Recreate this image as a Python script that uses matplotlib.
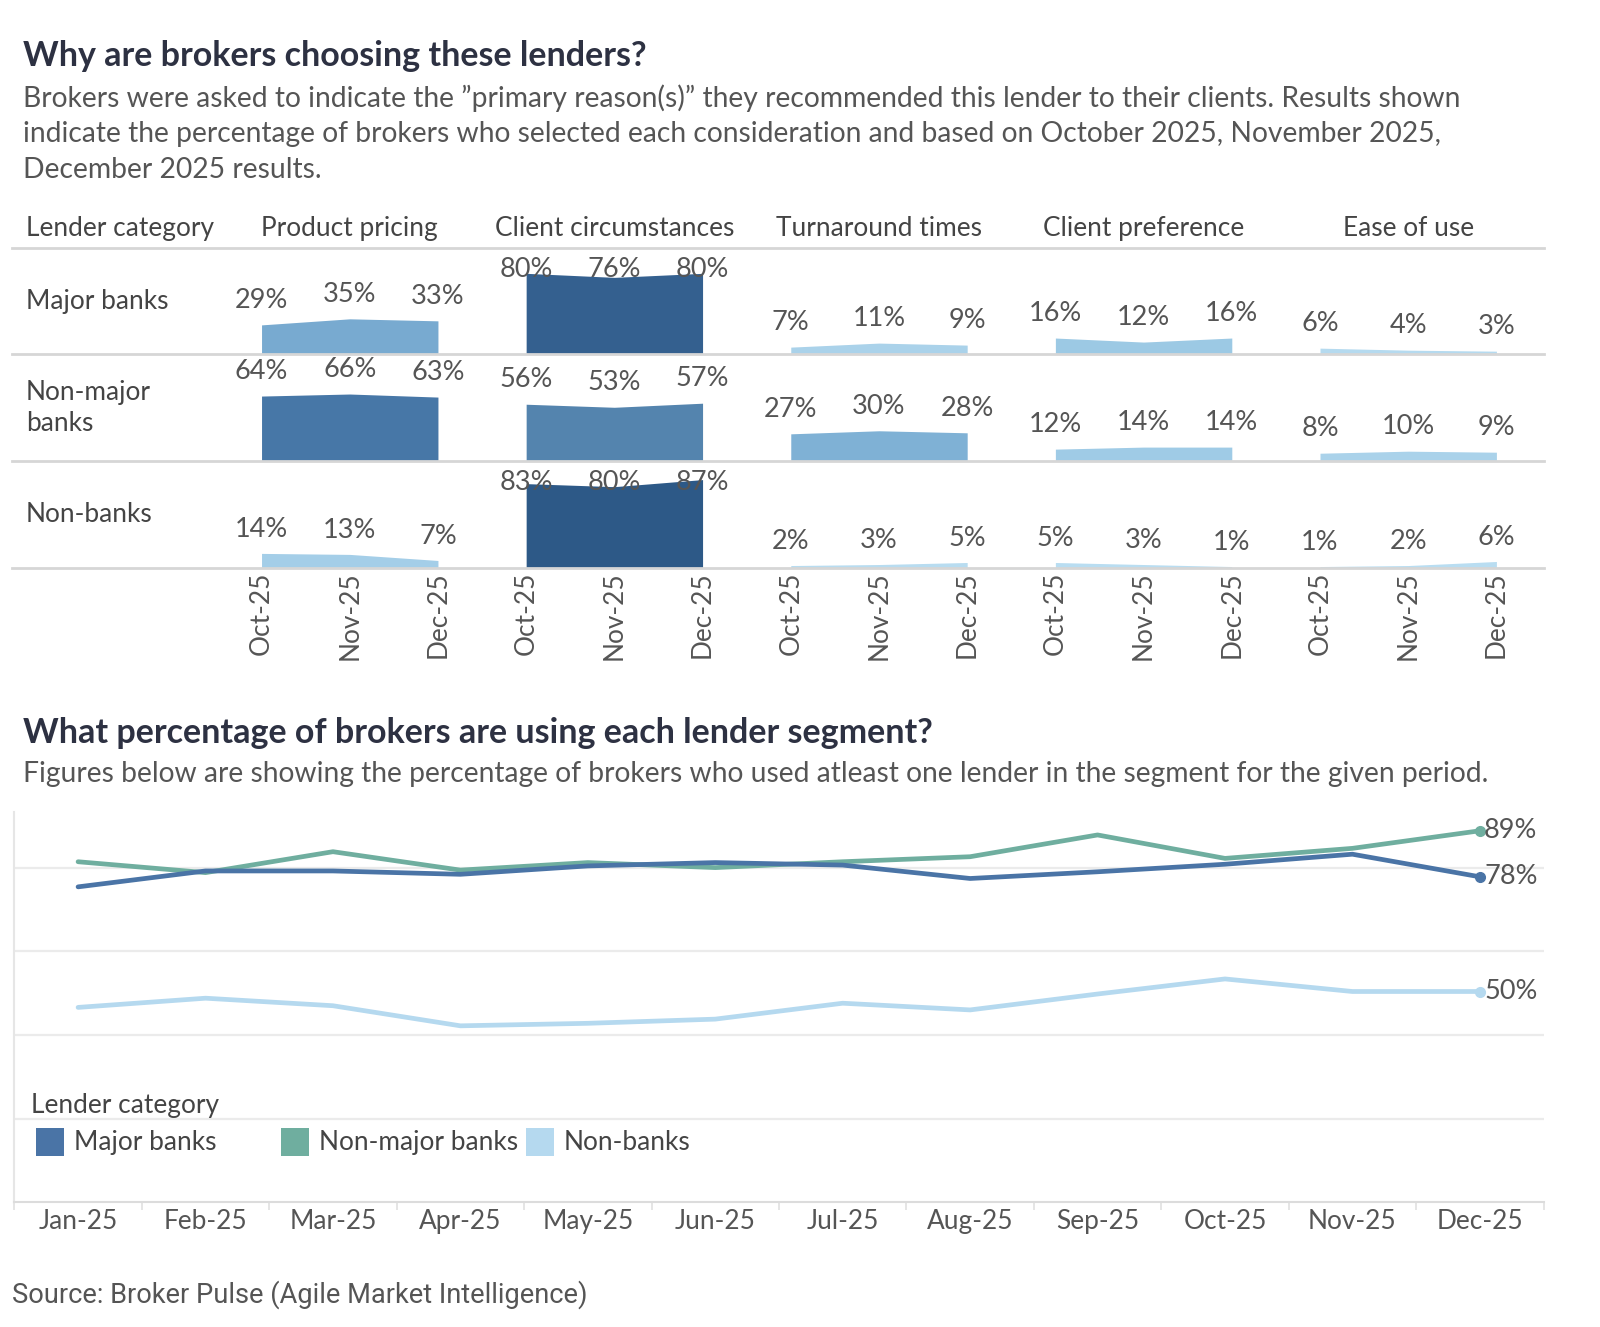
import numpy as np
import matplotlib
matplotlib.use("Agg")
import matplotlib.pyplot as plt
from matplotlib.colors import LinearSegmentedColormap
from matplotlib.patches import Rectangle
from matplotlib.transforms import blended_transform_factory

plt.rcParams['font.family'] = ['Lato', 'DejaVu Sans']

# ---------------- data ----------------
considerations = ["Product pricing", "Client circumstances", "Turnaround times",
                  "Client preference", "Ease of use"]
recent_months = ["Oct-25", "Nov-25", "Dec-25"]
lender_categories = ["Major banks", "Non-major banks", "Non-banks"]
row_labels = ["Major banks", "Non-major\nbanks", "Non-banks"]

major_reasons = [[29, 35, 33], [80, 76, 80], [7, 11, 9], [16, 12, 16], [6, 4, 3]]
nonmajor_reasons = [[64, 66, 63], [56, 53, 57], [27, 30, 28], [12, 14, 14], [8, 10, 9]]
nonbank_reasons = [[14, 13, 7], [83, 80, 87], [2, 3, 5], [5, 3, 1], [1, 2, 6]]

months = ["Jan-25", "Feb-25", "Mar-25", "Apr-25", "May-25", "Jun-25",
          "Jul-25", "Aug-25", "Sep-25", "Oct-25", "Nov-25", "Dec-25"]
major_usage = [75.4, 79.2, 79.2, 78.4, 80.4, 81.2, 80.6, 77.4, 79.0, 80.8, 83.2, 77.8]
nonmajor_usage = [81.4, 78.8, 83.8, 79.4, 81.2, 80.0, 81.4, 82.6, 87.8, 82.2, 84.6, 88.8]
nonbank_usage = [46.6, 48.8, 47.0, 42.2, 42.8, 43.8, 47.6, 46.0, 49.8, 53.4, 50.4, 50.4]

# ---------------- layout helpers ----------------
W, H = 1560.0, 1300.0


def fx(px):
    return px / W


def fy(py):
    return 1 - py / H


TXT = '#555555'
LBL = '#444444'
DARK = '#2d3142'
FS_TITLE = 24.5
FS_SUB = 20.3
FS_HEAD = 18.9
FS_VAL = 19.5
FS_TICK = 18.9

fig = plt.figure(figsize=(16, 13.27), dpi=100)

# Titles
fig.text(fx(22), fy(55), "Why are brokers choosing these lenders?", fontsize=FS_TITLE,
         fontweight='bold', color=DARK, va='center', ha='left')
sub_lines = ['Brokers were asked to indicate the \u201dprimary reason(s)\u201d they recommended this lender to their clients. Results shown',
             'indicate the percentage of brokers who selected each consideration and based on October 2025, November 2025,',
             'December 2025 results.']
for t, y in zip(sub_lines, [96, 131, 167]):
    fig.text(fx(22), fy(y), t, fontsize=FS_SUB, color=TXT, va='center', ha='left')

# ---------------- top table (area panels) ----------------
cmap = LinearSegmentedColormap.from_list(
    'blues', [(0.0, '#c0e2f4'), (0.176, '#9bc8e4'), (0.353, '#7caed3'),
              (0.647, '#5584ae'), (0.765, '#4676a7'), (1.0, '#2b5684')])

row_data = [major_reasons, nonmajor_reasons, nonbank_reasons]
row_bounds = [(243, 347), (347, 452), (452, 556)]
left_px, right_px = 12, 1505
x0_px, step_px = 255, 86
line_col = '#d6d6d6'

axes_rows = []
for r, (data, (top, bot)) in enumerate(zip(row_data, row_bounds)):
    ax = fig.add_axes([fx(left_px), fy(bot), fx(right_px) - fx(left_px), (bot - top) / H])
    ax.set_xlim((left_px - x0_px) / step_px, (right_px - x0_px) / step_px)
    ax.set_ylim(0, 105)
    for k, vals in enumerate(data):
        xs = np.arange(3) + 3 * k
        col = cmap(min(np.mean(vals) / 85.0, 1.0))
        ax.fill_between(xs, 0, vals, color=col, linewidth=0)
        for x, v in zip(xs, vals):
            ly = v + 24 if v + 24 <= 95 else 84
            ax.text(x, ly, f"{v}%", ha='center', va='center', fontsize=FS_VAL, color=TXT)
    for s in ax.spines.values():
        s.set_visible(False)
    ax.spines['bottom'].set_visible(True)
    ax.spines['bottom'].set_color(line_col)
    ax.spines['bottom'].set_linewidth(2)
    if r == 0:
        ax.spines['top'].set_visible(True)
        ax.spines['top'].set_color(line_col)
        ax.spines['top'].set_linewidth(2)
    ax.set_yticks([])
    if r == 2:
        ax.set_xticks(np.arange(15))
        ax.set_xticklabels(recent_months * len(considerations), rotation=90,
                           fontsize=FS_TICK, color=TXT)
        ax.tick_params(axis='x', length=0, pad=3)
    else:
        ax.set_xticks([])
    ax.patch.set_alpha(0)
    fig.text(fx(25), fy((top + bot) / 2), row_labels[r], fontsize=FS_HEAD, color=LBL,
             va='center', ha='left', linespacing=1.3)
    axes_rows.append(ax)

# header row
fig.text(fx(25), fy(224), "Lender category", fontsize=FS_HEAD, color=LBL, va='center', ha='left')
trans = blended_transform_factory(axes_rows[0].transData, fig.transFigure)
for k, name in enumerate(considerations):
    axes_rows[0].text(3 * k + 1, fy(224), name, transform=trans, fontsize=FS_HEAD,
                      color=LBL, va='center', ha='center')

# ---------------- bottom line chart ----------------
fig.text(fx(22), fy(718), "What percentage of brokers are using each lender segment?",
         fontsize=FS_TITLE, fontweight='bold', color=DARK, va='center', ha='left')
fig.text(fx(22), fy(758), "Figures below are showing the percentage of brokers who used atleast one lender in the segment for the given period.",
         fontsize=FS_SUB, color=TXT, va='center', ha='left')

lax = fig.add_axes([fx(14), fy(1178), fx(1505) - fx(14), (1178 - 795) / H])
lax.set_xlim(-0.5, 11.5)
lax.set_ylim(0, 93.4)
lax.set_yticks([20, 40, 60, 80])
lax.set_yticklabels([])
lax.tick_params(axis='y', length=0)
lax.yaxis.grid(True, color='#ebebeb', linewidth=1.6)
lax.set_axisbelow(True)
for s in ['top', 'right']:
    lax.spines[s].set_visible(False)
lax.spines['left'].set_color('#e6e6e6')
lax.spines['left'].set_linewidth(1.5)
lax.spines['bottom'].set_color('#dcdcdc')
lax.spines['bottom'].set_linewidth(1.5)
x = np.arange(len(months))
lax.set_xticks(x)
lax.set_xticklabels(months, fontsize=FS_TICK, color=TXT)
lax.tick_params(axis='x', which='major', length=0, pad=5)
lax.set_xticks(np.arange(-0.5, 11.6, 1), minor=True)
lax.tick_params(axis='x', which='minor', length=6, color='#e0e0e0', width=1.2)

series = [(nonbank_usage, '#b5d9ef'), (nonmajor_usage, '#6fae9f'), (major_usage, '#4a74a6')]
for vals, col in series:
    lax.plot(x, vals, color=col, linewidth=3.4, solid_joinstyle='round', solid_capstyle='round')
    lax.plot(x[-1], vals[-1], 'o', color=col, markersize=7)
    lax.annotate(f"{round(vals[-1])}%", (x[-1], vals[-1]), xytext=(3, 0),
                 textcoords='offset points', va='center', ha='left', fontsize=FS_VAL, color=TXT)

# legend
fig.text(fx(30), fy(1083), "Lender category", fontsize=FS_HEAD, color=LBL, va='center', ha='left')
leg_cols = {'Major banks': '#4a74a6', 'Non-major banks': '#6fae9f', 'Non-banks': '#b5d9ef'}
for i, name in enumerate(lender_categories):
    bx = 35 + 239 * i
    fig.patches.append(Rectangle((fx(bx), fy(1132)), 27 / W, 27 / H, transform=fig.transFigure,
                                 facecolor=leg_cols[name], edgecolor='none', figure=fig))
    fig.text(fx(bx + 37), fy(1119), name, fontsize=FS_HEAD, color=LBL, va='center', ha='left')

fig.text(fx(12), fy(1268), "Source: Broker Pulse (Agile Market Intelligence)",
         family=['Roboto', 'DejaVu Sans'], fontsize=19.6, color='#555555', va='center', ha='left')

fig.savefig('out.png', dpi=100, facecolor='white')
